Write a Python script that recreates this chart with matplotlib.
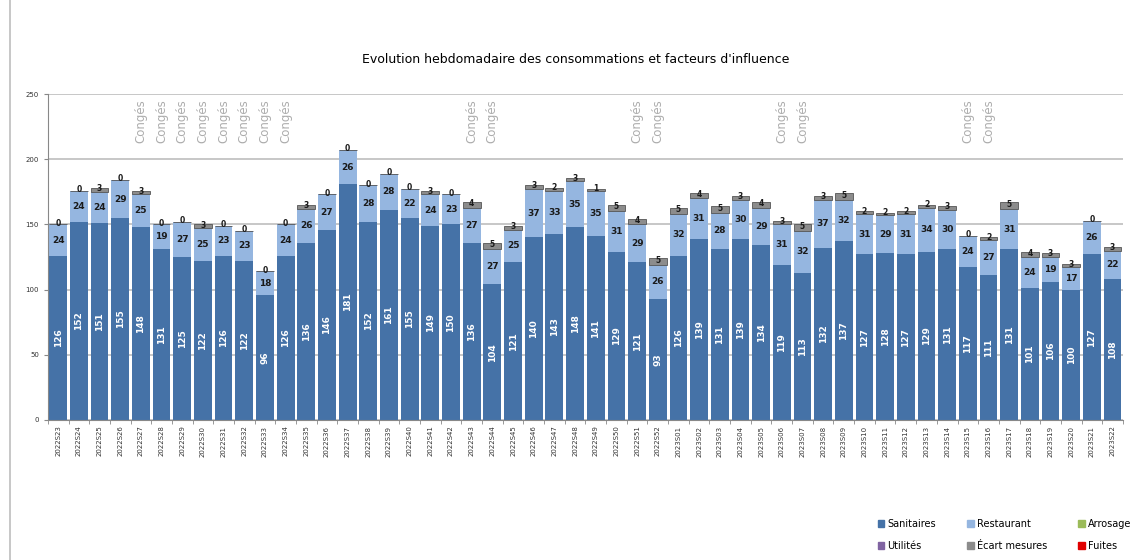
import matplotlib.pyplot as plt
import numpy as np
from matplotlib.lines import Line2D
from matplotlib.patches import Patch

# semaines 2022S23 -> 2023S22
semaines = [f"2022S{w:02d}" for w in range(23, 53)] + [f"2023S{w:02d}" for w in range(1, 23)]

sanitaires = [126, 152, 151, 155, 148, 131, 125, 122, 126, 122, 96, 126, 136, 146, 181, 152,
              161, 155, 149, 150, 136, 104, 121, 140, 143, 148, 141, 129, 121, 93, 126, 139,
              131, 139, 134, 119, 113, 132, 137, 127, 128, 127, 129, 131, 117, 111, 131, 101,
              106, 100, 127, 108]
restaurant = [24, 24, 24, 29, 25, 19, 27, 25, 23, 23, 18, 24, 26, 27, 26, 28,
              28, 22, 24, 23, 27, 27, 25, 37, 33, 35, 35, 31, 29, 26, 32, 31,
              28, 30, 29, 31, 32, 37, 32, 31, 29, 31, 34, 30, 24, 27, 31, 24,
              19, 17, 26, 22]
ecart = [0, 0, 3, 0, 3, 0, 0, 3, 0, 0, 0, 0, 3, 0, 0, 0,
         0, 0, 3, 0, 4, 5, 3, 3, 2, 3, 1, 5, 4, 5, 5, 4,
         5, 3, 4, 3, 5, 3, 5, 2, 2, 2, 2, 3, 0, 2, 5, 4,
         3, 3, 0, 3]
# semaines de congés (index des barres)
conges = [4, 5, 6, 7, 8, 9, 10, 11, 20, 21, 28, 29, 35, 36, 44, 45]

c_sani = '#4572A7'
c_resto = '#95B6E0'
c_arros = '#9BBB59'
c_util = '#8064A2'
c_ecart = '#8C8C8C'
c_fuite = '#E00000'

fig = plt.figure(figsize=(11.4, 5.6), dpi=100)
ax = fig.add_axes([0.042, 0.25, 0.943, 0.582])

x = np.arange(len(semaines))
sani = np.array(sanitaires)
resto = np.array(restaurant)
ec = np.array(ecart)
w = 0.86

ax.bar(x, sani, w, color=c_sani, zorder=2)
ax.bar(x, resto, w, bottom=sani, color=c_resto, zorder=2)
ax.bar(x, ec, w, bottom=sani + resto, color=c_ecart, edgecolor='#555555', linewidth=0.6, zorder=2)

for i in range(len(x)):
    ax.text(x[i], sani[i] / 2, str(sani[i]), rotation=90, ha='center', va='center',
            color='white', fontsize=6.5, fontweight='bold')
    ax.text(x[i], sani[i] + resto[i] / 2, str(resto[i]), ha='center', va='center',
            color='#1a1a1a', fontsize=6.5, fontweight='bold')
    ax.text(x[i], sani[i] + resto[i] + ec[i] / 2 + 1, str(ec[i]), ha='center', va='center',
            color='#1a1a1a', fontsize=5.5, fontweight='bold')

for i in conges:
    ax.text(x[i], 246, 'Congés', rotation=90, ha='center', va='top', color='#adadad',
            fontsize=8.5, family='Liberation Sans Narrow')

ax.set_xlim(-0.5, len(x) - 0.5)
ax.set_ylim(0, 250)
ax.set_yticks(range(0, 251, 50))
ax.tick_params(axis='y', labelsize=5, length=3, color='#888888', labelcolor='#333333')
ax.set_xticks(x)
ax.set_xticklabels(semaines, rotation=90, fontsize=5, color='#333333')
ax.set_xticks(np.arange(-0.5, len(x), 1), minor=True)
ax.tick_params(axis='x', which='major', length=0, pad=4)
ax.tick_params(axis='x', which='minor', length=3, color='#888888')
ax.yaxis.grid(True, color='#bdbdbd', linewidth=1.2, zorder=0)
ax.set_axisbelow(True)
for s in ['top', 'right']:
    ax.spines[s].set_visible(False)
ax.spines['left'].set_color('#888888')
ax.spines['bottom'].set_color('#888888')

fig.text(0.505, 0.893, "Evolution hebdomadaire des consommations et facteurs d'influence",
         ha='center', va='center', fontsize=9)

fig.add_artist(Line2D([0.009, 0.009], [0.0, 1.0], color='#bdbdbd', linewidth=1.2))

handles = [Patch(color=c_sani, label='Sanitaires'), Patch(color=c_resto, label='Restaurant'),
           Patch(color=c_arros, label='Arrosage'), Patch(color=c_util, label='Utilités'),
           Patch(color=c_ecart, label='Écart mesures'), Patch(color=c_fuite, label='Fuites')]
# ordre en lignes : 3 colonnes
order = [0, 3, 1, 4, 2, 5]
fig.legend([handles[i] for i in order], [handles[i].get_label() for i in order],
           ncol=3, loc='lower right', bbox_to_anchor=(1.0, 0.0), frameon=False,
           fontsize=7, handlelength=0.7, handleheight=0.7, handletextpad=0.3,
           columnspacing=3.2, labelspacing=1.3)

fig.savefig('out.png', dpi=100)
